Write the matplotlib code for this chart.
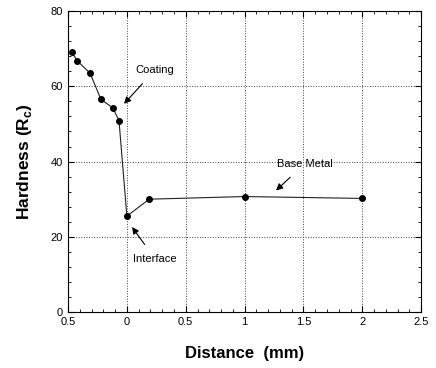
import numpy as np
import matplotlib.pyplot as plt
from matplotlib.ticker import MultipleLocator

# hardness profile across coating / interface / base metal
dist = [-0.466, -0.42, -0.313, -0.22, -0.12, -0.067, 0.0, 0.19, 1.0, 2.0]
hard = [69.0, 66.7, 63.5, 56.5, 54.3, 50.9, 25.5, 30.0, 30.7, 30.2]

xticks = [-0.5, 0, 0.5, 1, 1.5, 2, 2.5]
xticklabels = ['0.5', '0', '0.5', '1', '1.5', '2', '2.5']
yticks = [0, 20, 40, 60, 80]

plt.rcParams['font.family'] = ['Liberation Sans', 'DejaVu Sans']

fig = plt.figure(figsize=(4.36, 3.68), dpi=100)
ax = fig.add_axes([0.156, 0.152, 0.81, 0.818])

ax.plot(dist, hard, '-', color='#222222', lw=0.8)
ax.plot(dist, hard, 'o', color='black', ms=4)

ax.set_xlim(-0.5, 2.5)
ax.set_ylim(0, 80)
ax.set_xticks(xticks)
ax.set_xticklabels(xticklabels)
ax.set_yticks(yticks)
ax.xaxis.set_minor_locator(MultipleLocator(0.1))
ax.yaxis.set_minor_locator(MultipleLocator(4))
ax.tick_params(which='both', direction='in', top=True, right=True, labelsize=8)
ax.tick_params(which='major', length=4)
ax.tick_params(which='minor', length=2)
ax.grid(True, which='major', ls=':', color='#444444', lw=0.7)

ax.set_xlabel('Distance  (mm)', fontsize=12, fontweight='bold', labelpad=14)
ax.set_ylabel('Hardness (R$_\\mathregular{c}$)', fontsize=12.5, fontweight='bold', labelpad=12)

arrow = dict(arrowstyle='-|>', color='black', lw=0.8, mutation_scale=10)
ax.annotate('Coating', xy=(-0.04, 54.8), xytext=(0.24, 64.4), fontsize=8,
            ha='center', va='center', arrowprops=dict(arrow, shrinkA=6))
ax.annotate('Base Metal', xy=(1.25, 31.8), xytext=(1.51, 39.4), fontsize=8,
            ha='center', va='center', arrowprops=dict(arrow, shrinkA=6))
ax.annotate('Interface', xy=(0.03, 23.2), xytext=(0.24, 14.1), fontsize=8,
            ha='center', va='center', arrowprops=dict(arrow, shrinkA=6))

plt.savefig('out.png', dpi=100)
